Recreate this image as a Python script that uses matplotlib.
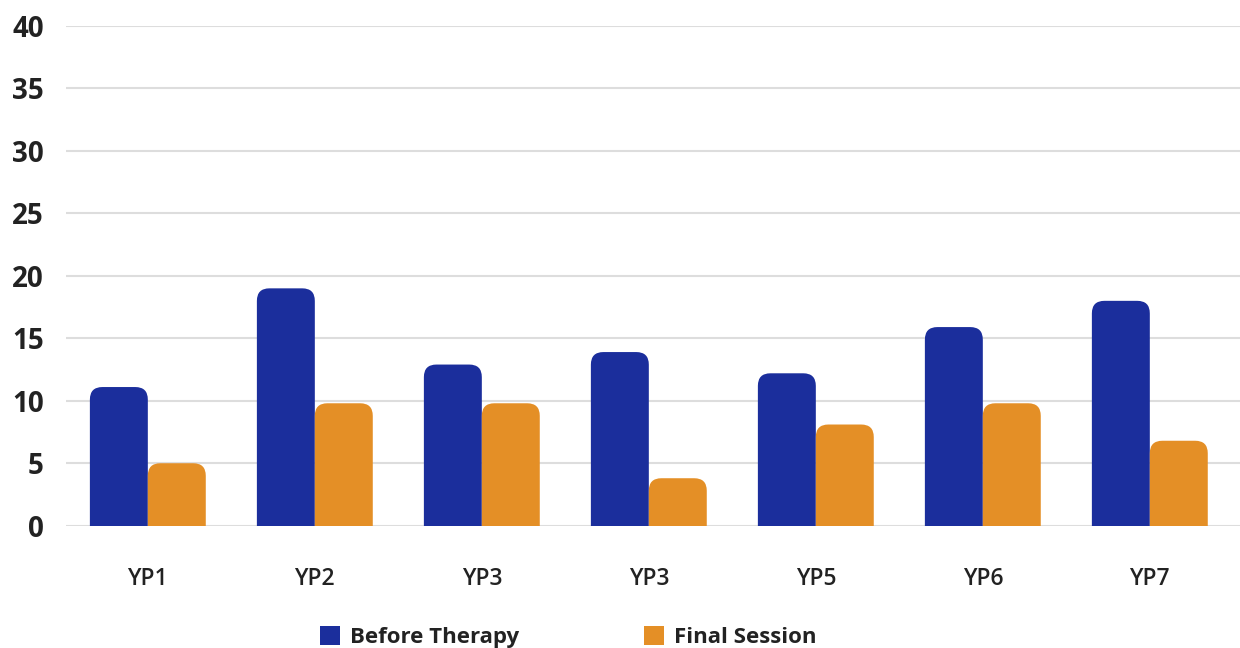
import matplotlib
matplotlib.use("Agg")
import matplotlib.pyplot as plt
from matplotlib.patches import FancyBboxPatch, Patch
import numpy as np

categories = ["YP1", "YP2", "YP3", "YP3", "YP5", "YP6", "YP7"]
before_therapy = [11.1, 19.0, 12.9, 13.9, 12.2, 15.9, 18.0]
final_session = [5.0, 9.8, 9.8, 3.8, 8.1, 9.8, 6.8]
y_ticks = [0, 5, 10, 15, 20, 25, 30, 35, 40]

BLUE = "#1B2E9C"
ORANGE = "#E48F26"
TEXT = "#222222"

plt.rcParams['font.family'] = ['Open Sans', 'DejaVu Sans']

fig = plt.figure(figsize=(12.4, 6.48), dpi=100)
W, H = 1240, 648
ax_left, ax_right = 66, 1240
ax_bottom_px, ax_top_px = 525.7, 26
ax = fig.add_axes([ax_left / W, 1 - ax_bottom_px / H, (ax_right - ax_left) / W,
                   (ax_bottom_px - ax_top_px) / H])

x = np.arange(len(categories))
bw = 0.347
ax.set_xlim(-0.49, 6.54)
ax.set_ylim(0, 40)

bars1 = ax.bar(x - bw / 2, before_therapy, bw, color=BLUE, label="Before Therapy")
bars2 = ax.bar(x + bw / 2, final_session, bw, color=ORANGE, label="Final Session")

# convert to rounded-top bars
px_per_x = (ax_right - ax_left) / (6.54 + 0.49)
px_per_y = (ax_bottom_px - ax_top_px) / 40
aspect = px_per_x / px_per_y
for bars, col in ((bars1, BLUE), (bars2, ORANGE)):
    for r in bars:
        r.set_visible(False)
        x0, w, h = r.get_x(), r.get_width(), r.get_height()
        p = FancyBboxPatch((x0, -2), w, h + 2,
                           boxstyle="round,pad=0,rounding_size=0.075",
                           mutation_aspect=aspect, facecolor=col,
                           edgecolor="none", zorder=3, clip_on=True)
        ax.add_patch(p)
        p.set_clip_path(ax.patch)

ax.set_yticks(y_ticks)
ax.yaxis.grid(True, color="#DDDDDD", linewidth=1.5, zorder=0)
ax.set_axisbelow(True)
for s in ax.spines.values():
    s.set_visible(False)
ax.tick_params(axis="y", length=0, pad=16, labelsize=20, labelcolor=TEXT)
ax.tick_params(axis="x", length=0, pad=30, labelsize=16.5, labelcolor=TEXT)
for t in ax.get_yticklabels():
    t.set_fontweight("bold")
ax.set_xticks(x)
ax.set_xticklabels(categories, fontweight="semibold")

handles = [Patch(facecolor=BLUE, label="Before Therapy"),
           Patch(facecolor=ORANGE, label="Final Session")]
fig.legend(handles=handles, loc="center", bbox_to_anchor=(568 / W, 1 - 637 / H),
           ncol=2, frameon=False, handlelength=0.9, handleheight=0.9,
           handletextpad=0.45, columnspacing=5.6,
           prop={"size": 16, "weight": "bold"}, labelcolor=TEXT)

fig.savefig("out.png", dpi=100)
